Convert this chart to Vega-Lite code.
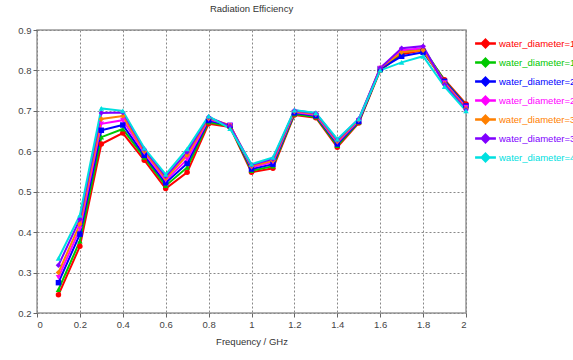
{
  "$schema": "https://vega.github.io/schema/vega-lite/v6.json",
  "width": 429,
  "height": 283,
  "autosize": {"type": "none"},
  "padding": {"left": 37, "top": 30, "right": 107, "bottom": 47},
  "background": "white",
  "title": {"text": "Radiation Efficiency", "fontSize": 9.5, "font": "Liberation Sans", "fontWeight": "normal", "color": "#333", "offset": 12, "anchor": "middle"},
  "config": {
    "font": "Liberation Sans",
    "view": {"stroke": "#999", "strokeWidth": 1.5},
    "axis": {"gridColor": "#888", "gridDash": [2, 2], "gridWidth": 1, "gridOpacity": 1, "domain": false, "tickColor": "#666", "tickSize": 4, "labelColor": "#444", "labelFontSize": 9.5, "titleFontSize": 9.5, "titleFontWeight": "normal", "titleColor": "#333", "labelPadding": 2}
  },
  "data": {"values": [
    {"s":"water_diameter=10","f":0.1,"v":0.245},{"s":"water_diameter=10","f":0.2,"v":0.365},{"s":"water_diameter=10","f":0.3,"v":0.618},{"s":"water_diameter=10","f":0.4,"v":0.645},{"s":"water_diameter=10","f":0.5,"v":0.578},{"s":"water_diameter=10","f":0.6,"v":0.508},{"s":"water_diameter=10","f":0.7,"v":0.548},{"s":"water_diameter=10","f":0.8,"v":0.668},{"s":"water_diameter=10","f":0.9,"v":0.660},{"s":"water_diameter=10","f":1.0,"v":0.548},{"s":"water_diameter=10","f":1.1,"v":0.558},{"s":"water_diameter=10","f":1.2,"v":0.690},{"s":"water_diameter=10","f":1.3,"v":0.683},{"s":"water_diameter=10","f":1.4,"v":0.610},{"s":"water_diameter=10","f":1.5,"v":0.670},{"s":"water_diameter=10","f":1.6,"v":0.800},{"s":"water_diameter=10","f":1.7,"v":0.840},{"s":"water_diameter=10","f":1.8,"v":0.850},{"s":"water_diameter=10","f":1.9,"v":0.777},{"s":"water_diameter=10","f":2.0,"v":0.717},
    {"s":"water_diameter=15","f":0.1,"v":0.258},{"s":"water_diameter=15","f":0.2,"v":0.378},{"s":"water_diameter=15","f":0.3,"v":0.635},{"s":"water_diameter=15","f":0.4,"v":0.655},{"s":"water_diameter=15","f":0.5,"v":0.585},{"s":"water_diameter=15","f":0.6,"v":0.515},{"s":"water_diameter=15","f":0.7,"v":0.560},{"s":"water_diameter=15","f":0.8,"v":0.672},{"s":"water_diameter=15","f":0.9,"v":0.662},{"s":"water_diameter=15","f":1.0,"v":0.552},{"s":"water_diameter=15","f":1.1,"v":0.563},{"s":"water_diameter=15","f":1.2,"v":0.692},{"s":"water_diameter=15","f":1.3,"v":0.685},{"s":"water_diameter=15","f":1.4,"v":0.614},{"s":"water_diameter=15","f":1.5,"v":0.672},{"s":"water_diameter=15","f":1.6,"v":0.802},{"s":"water_diameter=15","f":1.7,"v":0.845},{"s":"water_diameter=15","f":1.8,"v":0.855},{"s":"water_diameter=15","f":1.9,"v":0.775},{"s":"water_diameter=15","f":2.0,"v":0.714},
    {"s":"water_diameter=20","f":0.1,"v":0.275},{"s":"water_diameter=20","f":0.2,"v":0.395},{"s":"water_diameter=20","f":0.3,"v":0.652},{"s":"water_diameter=20","f":0.4,"v":0.665},{"s":"water_diameter=20","f":0.5,"v":0.590},{"s":"water_diameter=20","f":0.6,"v":0.522},{"s":"water_diameter=20","f":0.7,"v":0.570},{"s":"water_diameter=20","f":0.8,"v":0.676},{"s":"water_diameter=20","f":0.9,"v":0.664},{"s":"water_diameter=20","f":1.0,"v":0.556},{"s":"water_diameter=20","f":1.1,"v":0.568},{"s":"water_diameter=20","f":1.2,"v":0.695},{"s":"water_diameter=20","f":1.3,"v":0.688},{"s":"water_diameter=20","f":1.4,"v":0.618},{"s":"water_diameter=20","f":1.5,"v":0.674},{"s":"water_diameter=20","f":1.6,"v":0.804},{"s":"water_diameter=20","f":1.7,"v":0.835},{"s":"water_diameter=20","f":1.8,"v":0.845},{"s":"water_diameter=20","f":1.9,"v":0.773},{"s":"water_diameter=20","f":2.0,"v":0.712},
    {"s":"water_diameter=25","f":0.1,"v":0.288},{"s":"water_diameter=25","f":0.2,"v":0.408},{"s":"water_diameter=25","f":0.3,"v":0.668},{"s":"water_diameter=25","f":0.4,"v":0.677},{"s":"water_diameter=25","f":0.5,"v":0.596},{"s":"water_diameter=25","f":0.6,"v":0.528},{"s":"water_diameter=25","f":0.7,"v":0.580},{"s":"water_diameter=25","f":0.8,"v":0.679},{"s":"water_diameter=25","f":0.9,"v":0.665},{"s":"water_diameter=25","f":1.0,"v":0.560},{"s":"water_diameter=25","f":1.1,"v":0.573},{"s":"water_diameter=25","f":1.2,"v":0.697},{"s":"water_diameter=25","f":1.3,"v":0.690},{"s":"water_diameter=25","f":1.4,"v":0.622},{"s":"water_diameter=25","f":1.5,"v":0.676},{"s":"water_diameter=25","f":1.6,"v":0.806},{"s":"water_diameter=25","f":1.7,"v":0.850},{"s":"water_diameter=25","f":1.8,"v":0.855},{"s":"water_diameter=25","f":1.9,"v":0.770},{"s":"water_diameter=25","f":2.0,"v":0.709},
    {"s":"water_diameter=30","f":0.1,"v":0.300},{"s":"water_diameter=30","f":0.2,"v":0.420},{"s":"water_diameter=30","f":0.3,"v":0.680},{"s":"water_diameter=30","f":0.4,"v":0.687},{"s":"water_diameter=30","f":0.5,"v":0.600},{"s":"water_diameter=30","f":0.6,"v":0.533},{"s":"water_diameter=30","f":0.7,"v":0.590},{"s":"water_diameter=30","f":0.8,"v":0.682},{"s":"water_diameter=30","f":0.9,"v":0.664},{"s":"water_diameter=30","f":1.0,"v":0.563},{"s":"water_diameter=30","f":1.1,"v":0.577},{"s":"water_diameter=30","f":1.2,"v":0.699},{"s":"water_diameter=30","f":1.3,"v":0.692},{"s":"water_diameter=30","f":1.4,"v":0.625},{"s":"water_diameter=30","f":1.5,"v":0.678},{"s":"water_diameter=30","f":1.6,"v":0.806},{"s":"water_diameter=30","f":1.7,"v":0.845},{"s":"water_diameter=30","f":1.8,"v":0.850},{"s":"water_diameter=30","f":1.9,"v":0.768},{"s":"water_diameter=30","f":2.0,"v":0.706},
    {"s":"water_diameter=35","f":0.1,"v":0.318},{"s":"water_diameter=35","f":0.2,"v":0.432},{"s":"water_diameter=35","f":0.3,"v":0.695},{"s":"water_diameter=35","f":0.4,"v":0.696},{"s":"water_diameter=35","f":0.5,"v":0.605},{"s":"water_diameter=35","f":0.6,"v":0.538},{"s":"water_diameter=35","f":0.7,"v":0.598},{"s":"water_diameter=35","f":0.8,"v":0.685},{"s":"water_diameter=35","f":0.9,"v":0.662},{"s":"water_diameter=35","f":1.0,"v":0.566},{"s":"water_diameter=35","f":1.1,"v":0.581},{"s":"water_diameter=35","f":1.2,"v":0.701},{"s":"water_diameter=35","f":1.3,"v":0.694},{"s":"water_diameter=35","f":1.4,"v":0.628},{"s":"water_diameter=35","f":1.5,"v":0.680},{"s":"water_diameter=35","f":1.6,"v":0.806},{"s":"water_diameter=35","f":1.7,"v":0.855},{"s":"water_diameter=35","f":1.8,"v":0.860},{"s":"water_diameter=35","f":1.9,"v":0.765},{"s":"water_diameter=35","f":2.0,"v":0.703},
    {"s":"water_diameter=40","f":0.1,"v":0.335},{"s":"water_diameter=40","f":0.2,"v":0.442},{"s":"water_diameter=40","f":0.3,"v":0.706},{"s":"water_diameter=40","f":0.4,"v":0.700},{"s":"water_diameter=40","f":0.5,"v":0.608},{"s":"water_diameter=40","f":0.6,"v":0.543},{"s":"water_diameter=40","f":0.7,"v":0.606},{"s":"water_diameter=40","f":0.8,"v":0.687},{"s":"water_diameter=40","f":0.9,"v":0.656},{"s":"water_diameter=40","f":1.0,"v":0.568},{"s":"water_diameter=40","f":1.1,"v":0.585},{"s":"water_diameter=40","f":1.2,"v":0.702},{"s":"water_diameter=40","f":1.3,"v":0.695},{"s":"water_diameter=40","f":1.4,"v":0.630},{"s":"water_diameter=40","f":1.5,"v":0.680},{"s":"water_diameter=40","f":1.6,"v":0.800},{"s":"water_diameter=40","f":1.7,"v":0.820},{"s":"water_diameter=40","f":1.8,"v":0.835},{"s":"water_diameter=40","f":1.9,"v":0.760},{"s":"water_diameter=40","f":2.0,"v":0.700}
  ]},
  "encoding": {
    "x": {"field": "f", "type": "quantitative", "title": "Frequency / GHz", "scale": {"domain": [0, 2], "nice": false}, "axis": {"values": [0,0.2,0.4,0.6,0.8,1,1.2,1.4,1.6,1.8,2], "format": ".1~f", "titlePadding": 8}},
    "y": {"field": "v", "type": "quantitative", "title": null, "scale": {"domain": [0.2, 0.9], "nice": false, "zero": false}, "axis": {"values": [0.2,0.3,0.4,0.5,0.6,0.7,0.8,0.9], "format": ".1f"}},
    "color": {"field": "s", "type": "nominal", "title": null,
      "scale": {"domain": ["water_diameter=10","water_diameter=15","water_diameter=20","water_diameter=25","water_diameter=30","water_diameter=35","water_diameter=40"], "range": ["#ff0000","#00c800","#0000ff","#ff00ff","#ff8000","#8000ff","#00e0e0"]},
      "legend": {"orient": "none", "legendX": 441, "legendY": 6, "padding": 0, "rowPadding": 0, "labelFontSize": 9.5, "labelOffset": 6, "labelLimit": 300,
        "symbolType": "M-1.7,0H1.7M0,-0.6L0.6,0L0,0.6L-0.6,0Z", "symbolSize": 150, "symbolStrokeWidth": 2.5,
        "encode": {"labels": {"update": {"fill": {"scale": "color", "field": "value"}}},
                   "symbols": {"update": {"fill": {"scale": "color", "field": "value"}, "stroke": {"scale": "color", "field": "value"}, "strokeWidth": {"value": 2.5}, "opacity": {"value": 1}}}}}
    }
  },
  "layer": [
    {"mark": {"type": "line", "strokeWidth": 2}},
    {"mark": {"type": "point", "filled": true, "size": 30, "opacity": 1,
      "shape": {"expr": "datum.s == 'water_diameter=10' ? 'circle' : datum.s == 'water_diameter=15' ? 'triangle-up' : datum.s == 'water_diameter=20' ? 'square' : datum.s == 'water_diameter=25' ? 'triangle-down' : datum.s == 'water_diameter=40' ? 'triangle-up' : 'diamond'"}}}
  ]
}
